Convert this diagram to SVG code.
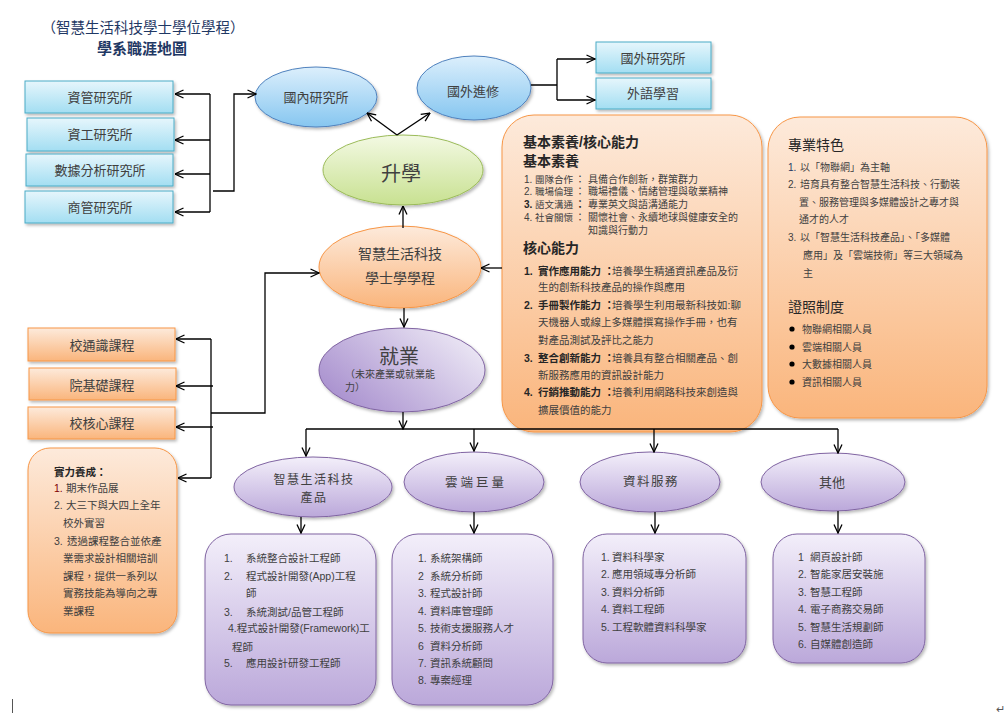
<svg xmlns="http://www.w3.org/2000/svg" width="1006" height="715" viewBox="0 0 1006 715">
<style>
text{font-family:"Liberation Sans","Noto Sans CJK TC",sans-serif;fill:#404040}
.t{font-size:13px;text-anchor:middle}
.h{font-size:14px;font-weight:bold;fill:#262626}
.s{font-size:10px}
.m{font-size:10.5px}
.lb{font-size:9.5px}
.b{font-weight:bold;fill:#262626}
.conn path{fill:none;stroke:#000;stroke-width:1.3}
.ar{marker-end:url(#arr)}
.bb{fill:url(#gBlueBox);stroke:#4bacc6;stroke-width:1}
.be{fill:url(#gBlueEll);stroke:#4f81bd;stroke-width:1}
.ob{fill:url(#gOrange);stroke:#f79646;stroke-width:1}
.pb{fill:url(#gPurple);stroke:#8064a2;stroke-width:1}
.sh{filter:url(#shadow)}
</style>
<defs>
<marker id="arr" viewBox="0 0 10 10" refX="9.5" refY="5" markerWidth="10" markerHeight="10" markerUnits="userSpaceOnUse" orient="auto">
<path d="M1,1 L9.5,5 L1,9" fill="none" stroke="#000" stroke-width="1.3"/>
</marker>
<linearGradient id="gBlueBox" x1="0" y1="0" x2="0" y2="1"><stop offset="0" stop-color="#e6f6fc"/><stop offset="1" stop-color="#a3def2"/></linearGradient>
<linearGradient id="gBlueEll" x1="0" y1="0" x2="0" y2="1"><stop offset="0" stop-color="#dcefFC"/><stop offset="1" stop-color="#86c6f0"/></linearGradient>
<linearGradient id="gGreen" x1="0" y1="0" x2="0" y2="1"><stop offset="0" stop-color="#f3f9e3"/><stop offset="1" stop-color="#c8e191"/></linearGradient>
<linearGradient id="gOrange" x1="0" y1="0" x2="0" y2="1"><stop offset="0" stop-color="#fdeadb"/><stop offset="1" stop-color="#fab57c"/></linearGradient>
<linearGradient id="gPurple" x1="0" y1="0" x2="0" y2="1"><stop offset="0" stop-color="#f3effa"/><stop offset="1" stop-color="#bba8da"/></linearGradient>
<linearGradient id="gJob" x1="0" y1="0.8" x2="1" y2="0.2"><stop offset="0" stop-color="#a68dcd"/><stop offset="1" stop-color="#eeeaf6"/></linearGradient>
<filter id="shadow" x="-10%" y="-10%" width="125%" height="130%"><feDropShadow dx="1.5" dy="2" stdDeviation="1.5" flood-color="#000" flood-opacity="0.28"/></filter>
</defs>
<rect width="1006" height="715" fill="#fff"/>

<g id="title">
<text x="143" y="33" style="font-size:14.5px;text-anchor:middle;fill:#1f3864">（智慧生活科技學士學位學程）</text>
<text x="142" y="54" style="font-size:15px;text-anchor:middle;font-weight:bold;fill:#1f3864">學系職涯地圖</text>
</g>

<g id="node-zg"><rect class="bb sh" x="25" y="81" width="148" height="32"/><text class="t" x="100" y="102">資管研究所</text></g>
<g id="node-zgong"><rect class="bb sh" x="27" y="118" width="147" height="33"/><text class="t" x="100" y="139">資工研究所</text></g>
<g id="node-sj"><rect class="bb sh" x="26" y="154" width="147" height="32"/><text class="t" x="100" y="175">數據分析研究所</text></g>
<g id="node-sg"><rect class="bb sh" x="25" y="191" width="148" height="32"/><text class="t" x="100" y="212">商管研究所</text></g>

<g id="node-gn"><ellipse class="be sh" cx="316" cy="97" rx="61" ry="30"/><text class="t" x="316" y="102">國內研究所</text></g>
<g id="node-gw"><ellipse class="be sh" cx="474" cy="88" rx="57" ry="32"/><text class="t" x="473" y="96">國外進修</text></g>
<g id="node-gwy"><rect class="bb sh" x="596" y="42" width="115" height="31"/><text class="t" x="653" y="63">國外研究所</text></g>
<g id="node-wy"><rect class="bb sh" x="596" y="78" width="115" height="31"/><text class="t" x="653" y="98">外語學習</text></g>

<g id="node-sx"><ellipse class="sh" cx="403" cy="170" rx="80" ry="35" fill="url(#gGreen)" stroke="#9bbb59"/><text x="401" y="181" style="font-size:20px;text-anchor:middle">升學</text></g>
<g id="node-main"><ellipse class="ob sh" cx="400" cy="267" rx="81" ry="41"/><text x="400" y="259" style="font-size:14px;text-anchor:middle">智慧生活科技</text><text x="400" y="283" style="font-size:14px;text-anchor:middle">學士學學程</text></g>
<g id="node-jy"><ellipse class="sh" cx="402" cy="370" rx="83" ry="42" fill="url(#gJob)" stroke="#8064a2"/><text x="399" y="364" style="font-size:20px;text-anchor:middle">就業</text><text x="345" y="378" style="font-size:10px">（未來產業或就業能</text><text x="345" y="391" style="font-size:10px">力）</text></g>

<g id="node-core">
<rect class="ob sh" x="502" y="115" width="260" height="317" rx="32"/>
<text class="h" x="523" y="147">基本素養/核心能力</text>
<text class="h" x="523" y="166">基本素養</text>
<text class="s" y="183"><tspan x="524">1.</tspan><tspan x="535" class="lb">團隊合作</tspan><tspan x="575">：</tspan><tspan x="588">具備合作創新，群策群力</tspan></text>
<text class="s" y="195"><tspan x="524">2.</tspan><tspan x="535" class="lb">職場倫理</tspan><tspan x="575">：</tspan><tspan x="588">職場禮儀、情緒管理與敬業精神</tspan></text>
<text class="s" y="208"><tspan x="524" class="b">3.</tspan><tspan x="535" class="lb">語文溝通</tspan><tspan x="575" class="b">：</tspan><tspan x="588">專業英文與語溝通能力</tspan></text>
<text class="s" y="221"><tspan x="524">4.</tspan><tspan x="535" class="lb">社會關懷</tspan><tspan x="575">：</tspan><tspan x="588">關懷社會、永續地球與健康安全的</tspan></text>
<text class="s" x="588" y="234">知識與行動力</text>
<text class="h" x="523" y="253">核心能力</text>
<text class="m" y="275"><tspan x="524" class="b">1.</tspan><tspan x="538" class="b">實作應用能力 ：</tspan><tspan x="612">培養學生精通資訊產品及衍</tspan></text>
<text class="m" x="538" y="291">生的創新科技產品的操作與應用</text>
<text class="m" y="309"><tspan x="524" class="b">2.</tspan><tspan x="538" class="b">手冊製作能力 ：</tspan><tspan x="612">培養學生利用最新科技如:聊</tspan></text>
<text class="m" x="538" y="326">天機器人或線上多媒體撰寫操作手冊，也有</text>
<text class="m" x="538" y="344">對產品測試及評比之能力</text>
<text class="m" y="362"><tspan x="524" class="b">3.</tspan><tspan x="538" class="b">整合創新能力 ：</tspan><tspan x="612">培養具有整合相關產品、創</tspan></text>
<text class="m" x="538" y="379">新服務應用的資訊設計能力</text>
<text class="m" y="396"><tspan x="524" class="b">4.</tspan><tspan x="538" class="b">行銷推動能力 ：</tspan><tspan x="612">培養利用網路科技來創造與</tspan></text>
<text class="m" x="538" y="414">擴展價值的能力</text>
</g>

<g id="node-feature">
<rect class="ob sh" x="768" y="117" width="219" height="301" rx="32"/>
<text class="h" x="788" y="150" style="font-weight:normal">專業特色</text>
<text class="s" y="171"><tspan x="788" fill="#1f3864">1.</tspan><tspan x="800">以「物聯網」為主軸</tspan></text>
<text class="s" y="188"><tspan x="788">2.</tspan><tspan x="800">培育具有整合智慧生活科技、行動裝</tspan></text>
<text class="s" x="799" y="206">置、服務管理與多媒體設計之專才與</text>
<text class="s" x="799" y="223">通才的人才</text>
<text class="s" y="241"><tspan x="788">3.</tspan><tspan x="800">以「智慧生活科技產品」、「多媒體</tspan></text>
<text class="s" x="803" y="259">應用」及「雲端技術」等三大領域為</text>
<text class="s" x="803" y="277">主</text>
<text class="h" x="788" y="312" style="font-weight:normal">證照制度</text>
<g fill="#000"><circle cx="792" cy="329" r="2.6"/><circle cx="792" cy="347" r="2.6"/><circle cx="792" cy="364" r="2.6"/><circle cx="792" cy="382" r="2.6"/></g>
<text class="s" x="802" y="333">物聯網相關人員</text>
<text class="s" x="802" y="351">雲端相關人員</text>
<text class="s" x="802" y="368">大數據相關人員</text>
<text class="s" x="802" y="386">資訊相關人員</text>
</g>

<g id="node-tongshi"><rect class="ob sh" x="28" y="328" width="147" height="33"/><text class="t" x="102" y="350">校通識課程</text></g>
<g id="node-yuan"><rect class="ob sh" x="29" y="368" width="147" height="32"/><text class="t" x="102" y="390">院基礎課程</text></g>
<g id="node-hexin"><rect class="ob sh" x="28" y="407" width="147" height="32"/><text class="t" x="102" y="428">校核心課程</text></g>

<g id="node-shili">
<rect class="ob sh" x="28" y="448" width="149" height="185" rx="22"/>
<text class="m b" x="54" y="476">實力養成：</text>
<text class="m" y="492"><tspan x="54" fill="#7f0000">1.</tspan><tspan x="66">期末作品展</tspan></text>
<text class="m" y="509"><tspan x="54">2.</tspan><tspan x="66">大三下與大四上全年</tspan></text>
<text class="m" x="63" y="527">校外實習</text>
<text class="m" y="545"><tspan x="54">3.</tspan><tspan x="67">透過課程整合並依產</tspan></text>
<text class="m" x="63" y="562">業需求設計相關培訓</text>
<text class="m" x="63" y="580">課程，提供一系列以</text>
<text class="m" x="63" y="597">實務技能為導向之專</text>
<text class="m" x="63" y="615">業課程</text>
</g>

<g id="node-e1"><ellipse class="pb sh" cx="313" cy="487" rx="79" ry="30"/><text x="314" y="484" style="font-size:12px;text-anchor:middle;letter-spacing:1.5px">智慧生活科技</text><text x="314" y="502" style="font-size:12px;text-anchor:middle;letter-spacing:1.5px">產品</text></g>
<g id="node-e2"><ellipse class="pb sh" cx="474" cy="482" rx="70" ry="30"/><text x="476" y="487" style="font-size:12.5px;text-anchor:middle;letter-spacing:3px">雲端巨量</text></g>
<g id="node-e3"><ellipse class="pb sh" cx="650" cy="482" rx="70" ry="30"/><text x="651" y="486" style="font-size:12.5px;text-anchor:middle;letter-spacing:1.5px">資料服務</text></g>
<g id="node-e4"><ellipse class="pb sh" cx="833" cy="482" rx="72" ry="29"/><text x="832" y="487" style="font-size:13px;text-anchor:middle">其他</text></g>

<g id="node-b1">
<rect class="pb sh" x="205" y="534" width="171" height="171" rx="26"/>
<text class="m" y="562"><tspan x="224">1.</tspan><tspan x="246">系統整合設計工程師</tspan></text>
<text class="m" y="580"><tspan x="224">2.</tspan><tspan x="246">程式設計開發(App)工程</tspan></text>
<text class="m" x="246" y="597">師</text>
<text class="m" y="616"><tspan x="224">3.</tspan><tspan x="246">系統測試/品管工程師</tspan></text>
<text class="m" x="228" y="632">4.程式設計開發(Framework)工</text>
<text class="m" x="232" y="651">程師</text>
<text class="m" y="667"><tspan x="224">5.</tspan><tspan x="246">應用設計研發工程師</tspan></text>
</g>
<g id="node-b2">
<rect class="pb sh" x="392" y="534" width="161" height="171" rx="26"/>
<text class="m" y="562"><tspan x="418">1.</tspan><tspan x="430">系統架構師</tspan></text>
<text class="m" y="580"><tspan x="418">2</tspan><tspan x="430">系統分析師</tspan></text>
<text class="m" y="597"><tspan x="418">3.</tspan><tspan x="430">程式設計師</tspan></text>
<text class="m" y="615"><tspan x="418">4.</tspan><tspan x="430">資料庫管理師</tspan></text>
<text class="m" y="632"><tspan x="418">5.</tspan><tspan x="430">技術支援服務人才</tspan></text>
<text class="m" y="650"><tspan x="418">6</tspan><tspan x="430">資料分析師</tspan></text>
<text class="m" y="667"><tspan x="418">7.</tspan><tspan x="430">資訊系統顧問</tspan></text>
<text class="m" y="684"><tspan x="418">8.</tspan><tspan x="430">專案經理</tspan></text>
</g>
<g id="node-b3">
<rect class="pb sh" x="583" y="534" width="163" height="129" rx="24"/>
<text class="m" y="561"><tspan x="601">1.</tspan><tspan x="612">資料科學家</tspan></text>
<text class="m" y="578"><tspan x="601">2.</tspan><tspan x="612">應用領域專分析師</tspan></text>
<text class="m" y="596"><tspan x="601">3.</tspan><tspan x="612">資料分析師</tspan></text>
<text class="m" y="613"><tspan x="601">4.</tspan><tspan x="612">資料工程師</tspan></text>
<text class="m" y="631"><tspan x="601">5.</tspan><tspan x="612">工程軟體資料科學家</tspan></text>
</g>
<g id="node-b4">
<rect class="pb sh" x="773" y="534" width="152" height="129" rx="24"/>
<text class="m" y="561"><tspan x="798">1</tspan><tspan x="810">網頁設計師</tspan></text>
<text class="m" y="578"><tspan x="798">2.</tspan><tspan x="810">智能家居安裝施</tspan></text>
<text class="m" y="596"><tspan x="798">3.</tspan><tspan x="810">智慧工程師</tspan></text>
<text class="m" y="613"><tspan x="798">4.</tspan><tspan x="810">電子商務交易師</tspan></text>
<text class="m" y="631"><tspan x="798">5.</tspan><tspan x="810">智慧生活規劃師</tspan></text>
<text class="m" y="648"><tspan x="798">6.</tspan><tspan x="810">自媒體創造師</tspan></text>
</g>

<g class="conn" id="connectors">
<path d="M210,94 V212"/>
<path class="ar" d="M210,94 H175"/>
<path class="ar" d="M210,140 H175"/>
<path class="ar" d="M210,174 H175"/>
<path class="ar" d="M210,212 H175"/>
<path class="ar" d="M213,191 H234 V94 H256"/>
<path class="ar" d="M397,135 L367,113"/>
<path class="ar" d="M397,135 L430,113"/>
<path d="M531,85 H557 M557,59 V100"/>
<path class="ar" d="M557,59 H595"/>
<path class="ar" d="M557,100 H595"/>
<path class="ar" d="M403,228 V206"/>
<path class="ar" d="M404,308 V327"/>
<path class="ar" d="M502,268 H481"/>
<path class="ar" d="M211,413 H265 V273 H319"/>
<path d="M211,339 V478"/>
<path class="ar" d="M211,339 H176"/>
<path class="ar" d="M213,386 H176"/>
<path class="ar" d="M213,427 H176"/>
<path class="ar" d="M211,478 H178"/>
<path class="ar" d="M403,412 V429"/>
<path d="M306,429 H838"/>
<path class="ar" d="M306,429 V456"/>
<path class="ar" d="M474,429 V451"/>
<path class="ar" d="M654,429 V452"/>
<path class="ar" d="M838,429 V453"/>
<path class="ar" d="M301,517 V533"/>
<path class="ar" d="M474,512 V533"/>
<path class="ar" d="M655,512 V533"/>
<path class="ar" d="M838,511 V533"/>
</g>

<line x1="12.5" y1="699" x2="12.5" y2="713" stroke="#555" stroke-width="1"/>
<text x="996" y="713" style="font-size:11px;fill:#555">↵</text>
</svg>
